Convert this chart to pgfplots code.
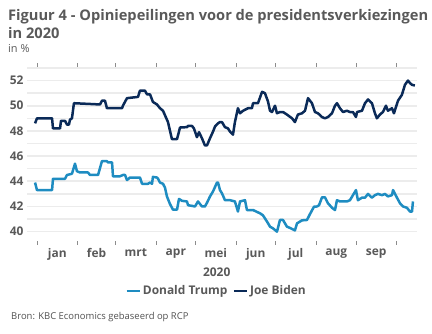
\documentclass[border=0pt]{standalone}
\usepackage{pgfplots}
\pgfplotsset{compat=1.18}
\usepackage{fontspec}
\setmainfont{Open Sans}
\definecolor{trump}{RGB}{30,140,193}
\definecolor{biden}{RGB}{10,42,88}
\definecolor{txt}{RGB}{89,89,89}
\definecolor{gridc}{RGB}{236,236,236}
\begin{document}
\begin{tikzpicture}
\useasboundingbox (0bp,0bp) rectangle (432bp,334bp);
\begin{axis}[at={(27bp,93.5bp)}, anchor=south west, scale only axis,
  width=390bp, height=173.2bp,
  xmin=-7.63, xmax=290.1, ymin=39.3, ymax=53.05,
  axis line style={draw=none},
  /pgf/number format/assume math mode=true,
  ytick={40,42,...,52}, minor ytick={41,43,...,53},
  ymajorgrids, yminorgrids,
  major grid style={gridc, line width=1.6bp},
  minor grid style={gridc, line width=1.6bp},
  y tick style={draw=none},
  yticklabel style={font=\bfseries\fontsize{12}{12}\selectfont, text=txt},
  xtick={0,31,60,91,121,152,182,213,244,274}, xticklabels={},
  x tick style={black!45, line width=0.6bp},
  xtick align=outside, major tick length=4bp,
  extra x ticks={15.5,45.5,75.5,106,136.5,167,197.5,228.5,259},
  extra x tick labels={jan,feb,mrt,apr,mei,jun,jul,aug,sep},
  extra x tick style={major tick length=0pt, tick style={draw=none}},
  xticklabel style={font=\bfseries\fontsize{12}{12}\selectfont, text=txt, yshift=-4.5bp},
  legend style={draw=none, fill=none, legend columns=2, at={(0.486,-0.2916)}, anchor=center,
    font=\bfseries\fontsize{12}{12}\selectfont, text=txt,
    /tikz/every even column/.append style={column sep=3bp}},
  legend image code/.code={\draw[#1, line width=2.6bp] (0,0) -- (13bp,0);},
]
\addplot[trump, line width=2.5bp, line join=round] coordinates {
(-1.5,43.9) (0,43.3) (11.5,43.3) (12.2,44.2) (21.4,44.2) (22.9,44.5) (26.7,44.6) (29,45.4) (30.5,44.8) (32.8,44.7) (38.9,44.7) (40.5,44.5) (46.6,44.5) (49.6,45.6) (53.4,45.6) (54.2,45.5) (57.3,45.5) (58,44.4) (63.4,44.4) (65.6,44.5) (67.2,44.5) (68.7,44.1) (71,44.3) (76.3,44.3) (78.6,44.3) (80.2,43.8) (84.7,43.8) (86.3,43.9) (87.8,43.8) (88.5,44.35) (91.6,44.3) (92.4,44.2) (93.9,43.9) (96.2,43.8) (97.7,43.5) (99.2,42.8) (101.5,42.2) (103.8,41.75) (106.9,41.75) (108.4,42.6) (110.7,42.45) (114.5,42.4) (115.3,42.1) (118.3,42.05) (120.6,42.0) (122.9,42.4) (124.4,42.2) (126,42.0) (128.2,42.0) (129.8,42.3) (132.1,42.8) (134.4,43.2) (137.4,43.9) (138.2,43.9) (139.7,43.3) (141.2,43.05) (143.5,42.5) (147.3,42.5) (151.1,42.4) (153.4,41.6) (155,42.4) (158.8,42.5) (160.3,41.72) (164.9,41.72) (170.2,41.46) (172.5,41.3) (175.6,40.8) (177.9,40.4) (180.2,40.26) (183.2,40.0) (185.5,40.93) (187.8,40.93) (190.8,40.4) (193.1,40.3) (196.9,40.1) (198.5,40.66) (202.3,40.9) (206.1,40.93) (208.4,41.4) (211.5,41.99) (213.7,42.0) (215.3,42.1) (217.6,42.73) (219.8,42.73) (222.1,42.26) (225.2,41.9) (227.5,41.72) (229,42.5) (231.3,42.4) (233.6,42.4) (236.6,42.4) (238.9,42.5) (241.2,42.9) (243.5,43.3) (245,42.5) (248.1,42.7) (250.4,42.7) (252.7,43.0) (255.7,42.7) (258,42.9) (260.3,43.0) (263.4,42.9) (265.6,43.0) (267.9,42.8) (271,42.9) (271.8,43.3) (274.8,42.7) (277.1,42.26) (279.4,42.0) (282.4,41.9) (284.7,41.6) (286.3,41.6) (287,42.4)
};
\addlegendentry{Donald Trump}
\addplot[biden, line width=2.5bp, line join=round] coordinates {
(-1.5,48.6) (0,49.0) (11.5,49.0) (12.2,48.2) (17.6,48.2) (18.3,48.8) (21.4,48.8) (22.9,48.5) (24.4,48.5) (25.2,48.9) (26.7,49.0) (28.2,50.2) (48.1,50.1) (49.6,50.4) (51.9,50.4) (53.4,49.8) (58,49.8) (64.9,49.8) (65.6,50.0) (68.7,50.6) (77.1,50.7) (78.6,51.2) (82.4,51.2) (84,50.9) (86.3,50.9) (88.5,50.3) (91.6,50.1) (93.9,49.8) (96.2,49.6) (100,48.7) (103,47.35) (106.9,47.35) (109.2,48.27) (114.5,48.3) (115.3,48.4) (118.3,48.4) (119.8,48.2) (122.1,47.5) (123.7,47.9) (126,47.4) (128.2,46.85) (129.8,46.85) (132,47.4) (134.4,47.95) (135.9,48.35) (138.2,48.6) (139.7,48.7) (141.2,48.7) (143.5,48.3) (145.8,48.2) (147.3,47.95) (149.6,47.7) (151.1,48.7) (153.4,49.8) (155,49.4) (157.3,49.6) (161.1,49.8) (164.1,49.8) (164.9,50.2) (168.7,50.2) (171.8,51.1) (174,51.0) (176.3,50.35) (177.9,49.6) (179.4,49.5) (181.7,50.0) (183.2,49.4) (185.5,49.5) (187.8,49.5) (190.8,49.3) (194.7,49.0) (196.9,48.7) (199.2,49.3) (202.3,49.4) (204.6,49.6) (206.9,50.6) (209.9,50.2) (212.2,49.5) (214.5,49.4) (217.6,49.1) (219.8,49.0) (222.1,49.1) (225.2,49.4) (227.5,50.0) (229,50.2) (231.3,49.8) (233.6,49.5) (236.6,49.6) (238.9,49.5) (241.2,49.5) (243.5,49.1) (244.3,49.5) (248.1,49.6) (250.4,50.2) (252.7,50.5) (255.7,50.2) (258,49.4) (259.5,49.0) (261.8,49.3) (264.1,49.5) (266.4,50.0) (267.9,49.6) (271,49.8) (272.5,49.4) (275.6,50.4) (278.6,50.87) (280.9,51.66) (283.2,52.0) (284.7,51.8) (286.3,51.66) (288.5,51.6)
};
\addlegendentry{Joe Biden}
\end{axis}
\node[anchor=base west, inner sep=0, text=txt, font=\bfseries\fontsize{14.7}{14.7}\selectfont] at (8bp,313bp) {Figuur 4 - Opiniepeilingen voor de presidentsverkiezingen};
\node[anchor=base west, inner sep=0, text=txt, font=\bfseries\fontsize{14.7}{14.7}\selectfont] at (8bp,295bp) {in 2020};
\node[anchor=base west, inner sep=0, text=txt, font=\fontsize{11}{11}\selectfont] at (8bp,281bp) {in \%};
\node[anchor=center, inner sep=0, text=txt, font=\bfseries\fontsize{12}{12}\selectfont] at (216.7bp,62bp) {2020};
\node[anchor=base west, inner sep=0, text=txt!90!black, font=\fontsize{9.5}{9.5}\selectfont] at (11bp,14.5bp) {Bron: KBC Economics gebaseerd op RCP};
\end{tikzpicture}
\end{document}
